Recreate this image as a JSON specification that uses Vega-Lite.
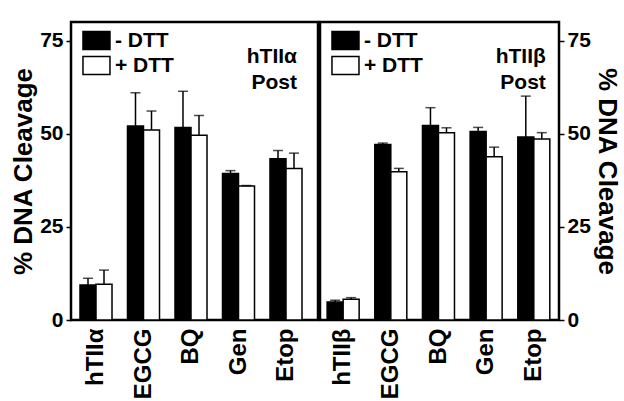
{
  "$schema": "https://vega.github.io/schema/vega-lite/v6.json",
  "background": "white",
  "padding": {"left": 9, "top": 20, "right": 5, "bottom": 5},
  "spacing": 2,
  "bounds": "flush",
  "datasets": {
    "alpha": [
      {"agent": "hTIIα", "dtt": "- DTT", "pct": 9.4, "hi": 11.2},
      {"agent": "hTIIα", "dtt": "+ DTT", "pct": 9.6, "hi": 13.4},
      {"agent": "EGCG", "dtt": "- DTT", "pct": 52.1, "hi": 61.0},
      {"agent": "EGCG", "dtt": "+ DTT", "pct": 51.0, "hi": 56.1},
      {"agent": "BQ", "dtt": "- DTT", "pct": 51.7, "hi": 61.4},
      {"agent": "BQ", "dtt": "+ DTT", "pct": 49.6, "hi": 54.9},
      {"agent": "Gen", "dtt": "- DTT", "pct": 39.3, "hi": 40.1},
      {"agent": "Gen", "dtt": "+ DTT", "pct": 36.0, "hi": 36.1},
      {"agent": "Etop", "dtt": "- DTT", "pct": 43.3, "hi": 45.5},
      {"agent": "Etop", "dtt": "+ DTT", "pct": 40.7, "hi": 44.8}
    ],
    "beta": [
      {"agent": "hTIIβ", "dtt": "- DTT", "pct": 4.8, "hi": 5.3},
      {"agent": "hTIIβ", "dtt": "+ DTT", "pct": 5.6, "hi": 6.0},
      {"agent": "EGCG", "dtt": "- DTT", "pct": 47.1, "hi": 47.5},
      {"agent": "EGCG", "dtt": "+ DTT", "pct": 39.8, "hi": 40.7},
      {"agent": "BQ", "dtt": "- DTT", "pct": 52.2, "hi": 57.0},
      {"agent": "BQ", "dtt": "+ DTT", "pct": 50.3, "hi": 51.6},
      {"agent": "Gen", "dtt": "- DTT", "pct": 50.6, "hi": 51.7},
      {"agent": "Gen", "dtt": "+ DTT", "pct": 43.8, "hi": 46.4},
      {"agent": "Etop", "dtt": "- DTT", "pct": 49.1, "hi": 60.1},
      {"agent": "Etop", "dtt": "+ DTT", "pct": 48.6, "hi": 50.3}
    ]
  },
  "config": {
    "font": "Liberation Sans",
    "view": {"stroke": "black", "strokeWidth": 2.5},
    "axis": {
      "domain": false,
      "grid": false,
      "labelFont": "Liberation Sans",
      "labelFontWeight": "bold",
      "labelColor": "black",
      "titleFont": "Liberation Sans",
      "titleFontWeight": "bold",
      "titleColor": "black"
    },
    "axisY": {"labelFontSize": 21, "titleFontSize": 26, "tickColor": "black", "tickWidth": 1.5, "tickSize": 5, "labelPadding": 3, "titlePadding": 3},
    "axisX": {"labelFontSize": 24, "labelAngle": -90, "ticks": false, "labelPadding": 8, "title": null},
    "legend": {
      "orient": "top-left",
      "offset": 8,
      "padding": 0,
      "title": null,
      "labelFont": "Liberation Sans",
      "labelFontWeight": "bold",
      "labelFontSize": 21,
      "labelColor": "black",
      "labelOffset": 15,
      "symbolType": "M-0.87,-1.2H2.73V1.2H-0.87Z",
      "symbolSize": 225,
      "symbolStrokeColor": "black",
      "symbolStrokeWidth": 1.5,
      "rowPadding": 0
    }
  },
  "resolve": {"scale": {"fill": "independent", "x": "independent", "y": "independent"}, "legend": {"fill": "independent"}},
  "hconcat": [
    {
      "width": 247,
      "height": 298,
      "data": {"name": "alpha"},
      "encoding": {
        "x": {"field": "agent", "type": "nominal", "sort": ["hTIIα", "EGCG", "BQ", "Gen", "Etop"], "scale": {"paddingInner": 0.326, "paddingOuter": 0.263, "align": 0.36}},
        "xOffset": {"field": "dtt", "type": "nominal", "scale": {"domain": ["- DTT", "+ DTT"], "paddingInner": 0, "paddingOuter": 0}}
      },
      "layer": [
        {
          "mark": {"type": "bar", "stroke": "black", "strokeWidth": 1.5},
          "encoding": {
            "y": {"field": "pct", "type": "quantitative", "title": "% DNA Cleavage", "scale": {"domain": [0, 75]}, "axis": {"values": [0, 25, 50, 75]}},
            "fill": {"field": "dtt", "type": "nominal", "scale": {"domain": ["- DTT", "+ DTT"], "range": ["black", "white"]}}
          }
        },
        {
          "mark": {"type": "rule", "color": "black", "strokeWidth": 1.5},
          "encoding": {
            "y": {"field": "pct", "type": "quantitative", "title": "% DNA Cleavage"},
            "y2": {"field": "hi"}
          }
        },
        {
          "mark": {"type": "tick", "color": "black", "thickness": 1.5, "size": 10},
          "encoding": {
            "y": {"field": "hi", "type": "quantitative", "title": "% DNA Cleavage"}
          }
        },
        {
          "data": {"values": [{"label": "hTIIα"}]},
          "mark": {"type": "text", "text": ["hTIIα", "Post"], "align": "right", "baseline": "alphabetic", "dx": 3, "fontSize": 21, "fontWeight": "bold", "lineHeight": 26, "color": "black"},
          "encoding": {
            "x": {"datum": "Etop"},
            "xOffset": {"datum": "+ DTT"},
            "y": {"datum": 69, "type": "quantitative", "title": "% DNA Cleavage"}
          }
        }
      ]
    },
    {
      "width": 239,
      "height": 298,
      "data": {"name": "beta"},
      "encoding": {
        "x": {"field": "agent", "type": "nominal", "sort": ["hTIIβ", "EGCG", "BQ", "Gen", "Etop"], "scale": {"paddingInner": 0.326, "paddingOuter": 0.17, "align": 0.44}},
        "xOffset": {"field": "dtt", "type": "nominal", "scale": {"domain": ["- DTT", "+ DTT"], "paddingInner": 0, "paddingOuter": 0}}
      },
      "layer": [
        {
          "mark": {"type": "bar", "stroke": "black", "strokeWidth": 1.5},
          "encoding": {
            "y": {"field": "pct", "type": "quantitative", "title": "% DNA Cleavage", "scale": {"domain": [0, 75]}, "axis": {"values": [0, 25, 50, 75], "orient": "right"}},
            "fill": {"field": "dtt", "type": "nominal", "scale": {"domain": ["- DTT", "+ DTT"], "range": ["black", "white"]}}
          }
        },
        {
          "mark": {"type": "rule", "color": "black", "strokeWidth": 1.5},
          "encoding": {
            "y": {"field": "pct", "type": "quantitative", "title": "% DNA Cleavage"},
            "y2": {"field": "hi"}
          }
        },
        {
          "mark": {"type": "tick", "color": "black", "thickness": 1.5, "size": 10},
          "encoding": {
            "y": {"field": "hi", "type": "quantitative", "title": "% DNA Cleavage"}
          }
        },
        {
          "data": {"values": [{"label": "hTIIβ"}]},
          "mark": {"type": "text", "text": ["hTIIβ", "Post"], "align": "right", "baseline": "alphabetic", "dx": 4, "fontSize": 21, "fontWeight": "bold", "lineHeight": 26, "color": "black"},
          "encoding": {
            "x": {"datum": "Etop"},
            "xOffset": {"datum": "+ DTT"},
            "y": {"datum": 69, "type": "quantitative", "title": "% DNA Cleavage"}
          }
        }
      ]
    }
  ]
}
